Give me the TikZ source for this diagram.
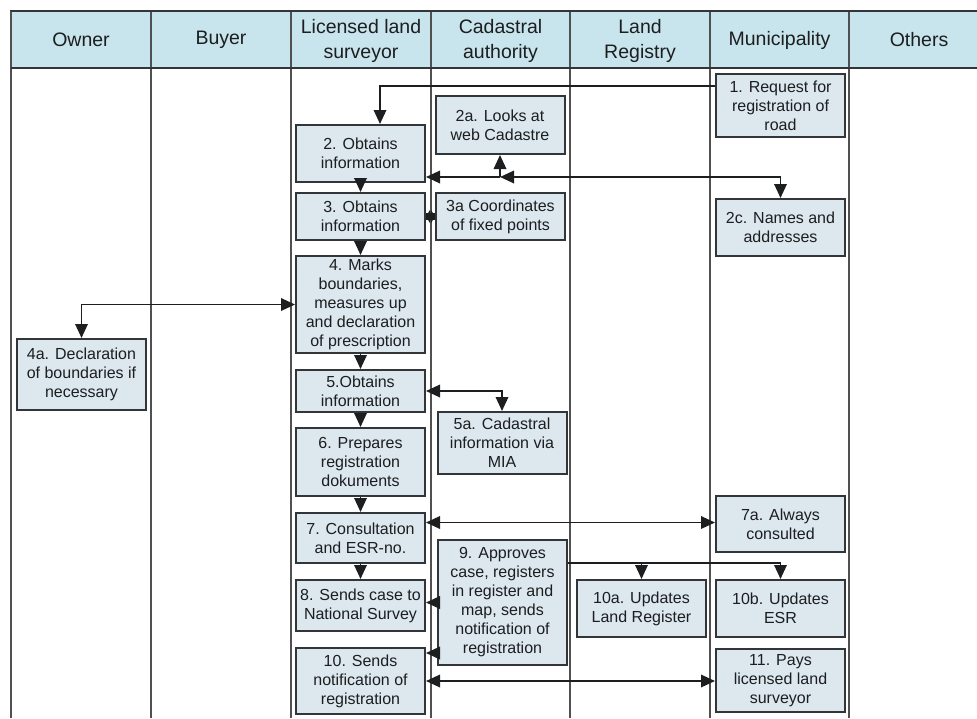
\documentclass[tikz,border=0pt]{standalone}
\usepackage{fontspec}
\setmainfont{Liberation Sans}
\usetikzlibrary{arrows.meta}

\definecolor{headfill}{RGB}{200,228,236}
\definecolor{boxfill}{RGB}{220,231,238}
\definecolor{boxline}{RGB}{50,54,56}
\definecolor{laneline}{RGB}{80,80,80}
\definecolor{inkc}{RGB}{28,30,32}

\tikzset{
  lanehead/.style={font={\fontsize{19.5}{25}\selectfont}, text=inkc, align=center, inner sep=0pt},
  stepbox/.style={draw=boxline, fill=boxfill, line width=2pt, inner sep=0pt,
    align=center, text=inkc, font={\fontsize{16}{19}\selectfont},
    minimum width=129pt},
  tip/.tip={Triangle[length=14pt,width=12.5pt]},
  stubtip/.tip={Triangle[length=4pt,width=13pt]},
  flow/.style={draw=inkc, line width=1.8pt, -tip},
  flowboth/.style={draw=inkc, line width=1.8pt, tip-tip},
  stubbar/.style={draw=inkc, line width=7pt},
  stubboth/.style={draw=inkc, line width=1.8pt, stubtip-stubtip},
}

\begin{document}
\begin{tikzpicture}[x=1pt,y=-1pt]
\useasboundingbox (0,0) rectangle (977,718);
\clip (0,0) rectangle (977,718);

% header band
\draw[fill=headfill, draw=boxline, line width=2.2pt] (11,11) rectangle (995,68);

% swimlane dividers
\foreach \lx in {11,151,291,431,570,710,849}
  \draw[laneline, line width=1.7pt] (\lx,11) -- (\lx,718);
\draw[boxline, line width=2.2pt] (11,11) -- (995,11);
\draw[boxline, line width=2.2pt] (11,68) -- (995,68);

% lane titles
\node[lanehead] (hOwner) at (81,40) {Owner};
\node[lanehead] (hBuyer) at (221,40) {Buyer};
\node[lanehead] (hSurv)  at (361,40.5) {Licensed land\\surveyor};
\node[lanehead] (hCad)   at (500.5,40.5) {Cadastral\\authority};
\node[lanehead] (hReg)   at (640,40.5) {Land\\Registry};
\node[lanehead] (hMun)   at (779.5,40) {Municipality};
\node[lanehead] (hOth)   at (919,40) {Others};

% process steps
\node[stepbox, minimum height=63pt]  (b1)   at (780.5,105.5) {1. Request for\\registration of\\road};
\node[stepbox, minimum height=58pt]  (b2a)  at (500,125)     {2a. Looks at\\web Cadastre};
\node[stepbox, minimum height=57pt]  (b2)   at (360.5,153.5) {2. Obtains\\information};
\node[stepbox, minimum height=47pt]  (b3)   at (360.5,216.5) {3. Obtains\\information};
\node[stepbox, minimum height=47pt]  (b3a)  at (500.5,216.5) {3a Coordinates\\of fixed points};
\node[stepbox, minimum height=57pt]  (b2c)  at (780.5,227.5) {2c. Names and\\addresses};
\node[stepbox, minimum height=97pt]  (b4)   at (360.5,304.5) {4. Marks\\boundaries,\\measures up\\and declaration\\of prescription};
\node[stepbox, minimum height=71pt]  (b4a)  at (81.5,374.5)  {4a. Declaration\\of boundaries if\\necessary};
\node[stepbox, minimum height=42pt]  (b5)   at (360.5,391)   {5.Obtains\\information};
\node[stepbox, minimum height=62pt]  (b5a)  at (502,443)     {5a. Cadastral\\information via\\MIA};
\node[stepbox, minimum height=68pt]  (b6)   at (360.5,462)   {6. Prepares\\registration\\dokuments};
\node[stepbox, minimum height=50pt]  (b7)   at (360.5,538)   {7. Consultation\\and ESR-no.};
\node[stepbox, minimum height=56pt]  (b7a)  at (780.5,524)   {7a. Always\\consulted};
\node[stepbox, minimum height=51pt]  (b8)   at (360.5,605.5) {8. Sends case to\\National Survey};
\node[stepbox, minimum height=125pt] (b9)   at (502.5,602.5) {9. Approves\\case, registers\\in register and\\map, sends\\notification of\\registration};
\node[stepbox, minimum height=57pt]  (b10a) at (641.5,608.5) {10a. Updates\\Land Register};
\node[stepbox, minimum height=57pt]  (b10b) at (780.5,608.5) {10b. Updates\\ESR};
\node[stepbox, minimum height=66pt]  (b10)  at (360.5,681)   {10. Sends\\notification of\\registration};
\node[stepbox, minimum height=63pt]  (b11)  at (780.5,680.5) {11. Pays\\licensed land\\surveyor};

% junction on the information line
\coordinate (j2) at (500,177);

% connectors
\draw[flow] ([yshift=19.5pt]b1.west) -| ([xshift=19.5pt]b2.north);
\draw[flow] (j2) -- (j2 -| b2.east);
\draw[flow] (j2) -- (b2a.south);
\draw[flowboth] (j2) -| (b2c.north);
\draw[flow] (b2) -- (b3);
\draw[stubbar] (b3a) -- (b3);
\draw[stubboth] (b3a) -- (b3);
\draw[flow] (b3) -- (b4);
\draw[flowboth] (b4.west) -| (b4a.north);
\draw[flow] (b4) -- (b5);
\draw[flowboth] (b5.east) -| (b5a.north);
\draw[flow] (b5) -- (b6);
\draw[flow] (b6) -- (b7);
\draw[flowboth] ([yshift=1.5pt]b7a.west) -- ([yshift=1.5pt]b7a.west -| b7.east);
\draw[flow] (b7) -- (b8);
\draw[flow] (b9.west) -- (b9.west -| b8.east);
\draw[flow] ([yshift=-50.5pt]b9.west) -- ([yshift=-50.5pt]b9.west -| b10.east);
\draw[flowboth] (b10.east) -- (b10.east -| b11.west);
\draw[flow] ([yshift=39.5pt]b9.east) -| (b10b.north);
\draw[flow] ([yshift=39.5pt]b9.east) -| (b10a.north);

\end{tikzpicture}
\end{document}
